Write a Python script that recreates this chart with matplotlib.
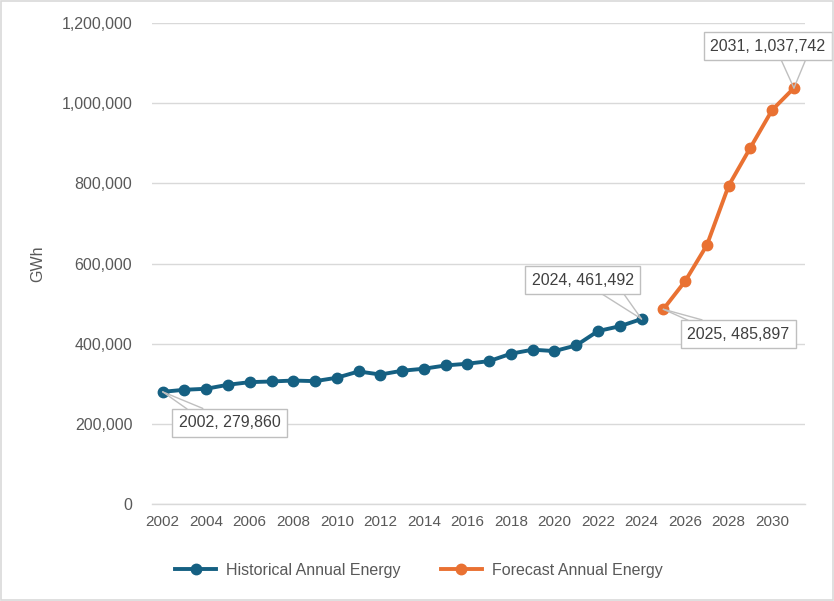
import matplotlib
matplotlib.use("Agg")
import matplotlib.pyplot as plt
from matplotlib.ticker import FuncFormatter

plt.rcParams['font.family'] = ['Liberation Sans', 'DejaVu Sans']

hist_years = list(range(2002, 2025))
hist_gwh = [279860, 285000, 287500, 297500, 304000, 305700, 308000, 306500, 315000,
            330700, 323000, 332500, 337500, 345700, 350000, 356500, 375000, 385000,
            381500, 395700, 431500, 443500, 461492]

fc_years = list(range(2025, 2032))
fc_gwh = [485897, 555700, 645700, 794000, 889000, 983000, 1037742]

blue = '#156082'
orange = '#e97132'
grey_txt = '#595959'

fig = plt.figure(figsize=(8.34, 6.01), dpi=100)
ax = fig.add_axes([0.182, 0.1614, 0.783, 0.8003])

ax.plot(hist_years, hist_gwh, color=blue, lw=2.8, marker='o', ms=7.5,
        label='Historical Annual Energy', zorder=3)
ax.plot(fc_years, fc_gwh, color=orange, lw=2.8, marker='o', ms=7.5,
        label='Forecast Annual Energy', zorder=3)

ax.set_xlim(2001.5, 2031.5)
ax.set_ylim(0, 1200000)
ax.set_xticks(range(2002, 2031, 2))
ax.set_yticks(range(0, 1200001, 200000))
ax.yaxis.set_major_formatter(FuncFormatter(lambda v, p: f'{int(v):,}'))
ax.tick_params(axis='both', length=0, labelsize=11, colors=grey_txt)
ax.tick_params(axis='y', labelsize=11.5, pad=14)
ax.tick_params(axis='x', pad=8)
ax.grid(axis='y', color='#d9d9d9', lw=1)
ax.set_axisbelow(True)
for s in ['top', 'right', 'left']:
    ax.spines[s].set_visible(False)
ax.spines['bottom'].set_color('#d9d9d9')
ax.spines['bottom'].set_linewidth(1)
ax.set_ylabel('GWh', fontsize=11.5, color=grey_txt, labelpad=12)

# callout labels: (year, value, text offset in px, where the pointer leaves the box)
callouts = [
    (2002, 279860, (67, -31), [(0.17, 1), (0.40, 1)]),
    (2024, 461492, (-59, 39), [(0.59, 0), (0.86, 0)]),
    (2025, 485897, (75, -25), [(0.15, 1), (0.39, 1)]),
    (2031, 1037742, (-26, 42), [(0.59, 0), (0.85, 0)]),
]
for yr, val, off, rels in callouts:
    for i, rp in enumerate(rels):
        ax.annotate(f'{yr}, {val:,}', xy=(yr, val), xytext=off, textcoords='offset pixels',
                    ha='center', va='center', fontsize=11.5,
                    color='#404040' if i == 1 else 'none', zorder=5 + i,
                    bbox=dict(boxstyle='square,pad=0.4',
                              fc='white' if i == 1 else 'none',
                              ec='#bfbfbf' if i == 1 else 'none', lw=1),
                    arrowprops=dict(arrowstyle='-', color='#bfbfbf', lw=1,
                                    relpos=rp, shrinkA=0, shrinkB=0))

fig.legend(loc='center', bbox_to_anchor=(0.502, 0.051), ncol=2, frameon=False,
           fontsize=11.5, labelcolor=grey_txt, handlelength=2.6, handletextpad=0.6,
           columnspacing=2.5)

fig.patches.append(plt.Rectangle((0.001, 0.001), 0.998, 0.997, transform=fig.transFigure,
                                 fill=False, ec='#d9d9d9', lw=1.2))

fig.savefig('out.png', dpi=100)
